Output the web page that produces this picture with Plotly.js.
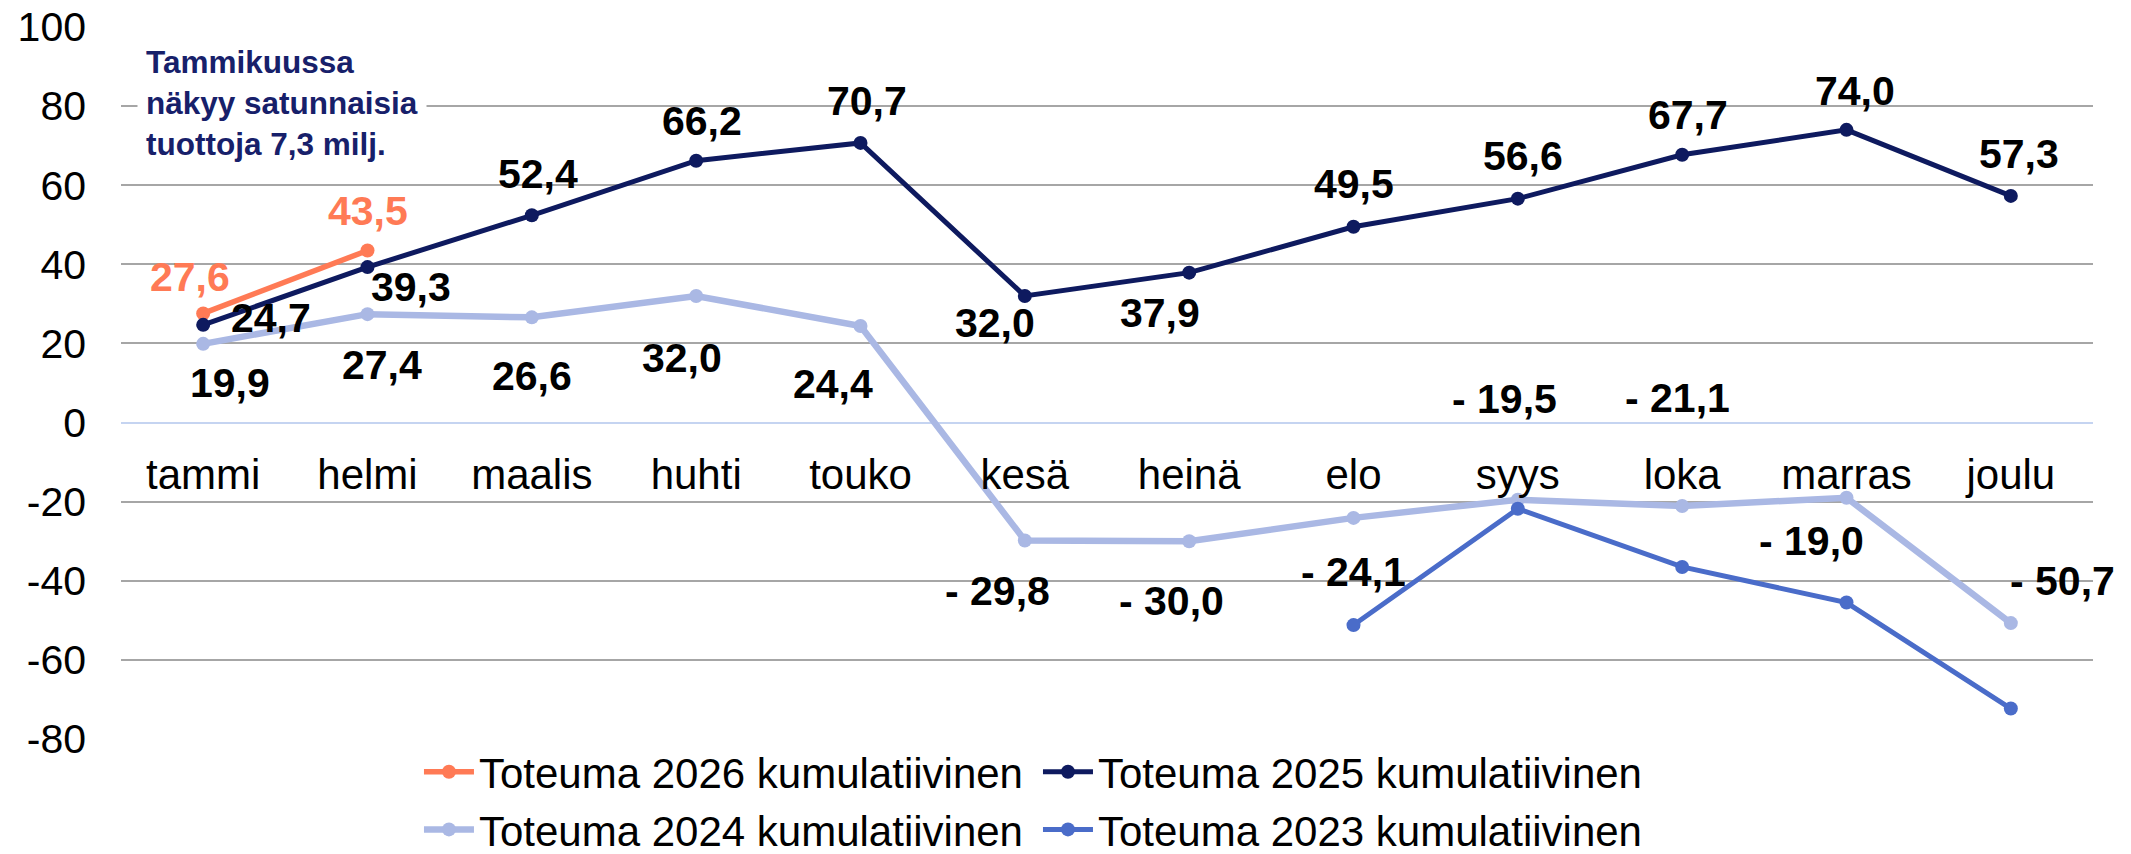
<!DOCTYPE html>
<html>
<head>
<meta charset="utf-8">
<script src="https://cdn.plot.ly/plotly-3.0.1.min.js"></script>
<style>html,body{margin:0;padding:0;background:#fff;}#chart{width:2131px;height:854px;}</style>
</head>
<body>
<div id="chart"></div>
<script>
// ---- data ----
const months = ['tammi','helmi','maalis','huhti','touko','kesä','heinä','elo','syys','loka','marras','joulu'];
const tot2026 = [27.6, 43.5, null, null, null, null, null, null, null, null, null, null];
const tot2025 = [24.7, 39.3, 52.4, 66.2, 70.7, 32.0, 37.9, 49.5, 56.6, 67.7, 74.0, 57.3];
const tot2024 = [19.9, 27.4, 26.6, 32.0, 24.4, -29.8, -30.0, -24.1, -19.5, -21.1, -19.0, -50.7];
const tot2023 = [null, null, null, null, null, null, null, -51.2, -21.8, -36.5, -45.5, -72.3];
const yTickVals = [-80, -60, -40, -20, 0, 20, 40, 60, 80, 100];
const yTickText = ['-80', '-60', '-40', '-20', '0', '20', '40', '60', '80', '100'];
const seriesNames = ['Toteuma 2026 kumulatiivinen','Toteuma 2025 kumulatiivinen','Toteuma 2024 kumulatiivinen','Toteuma 2023 kumulatiivinen'];
const noteText = 'Tammikuussa<br>näkyy satunnaisia<br>tuottoja 7,3 milj.';

// ---- styles ----
const FONT = 'Liberation Sans, Arial, sans-serif';
const colors = ['#FF7A55', '#0E1A5F', '#AAB8E4', '#4A6CC9'];
const widths = [5.5, 5, 6.5, 5];
const legendIds = ['legend', 'legend2', 'legend', 'legend2'];
// label offsets in screen px [dx, dy] (dy positive = down)
const off2026 = [[-13,-36],[0,-39]];
const off2025 = [[68,-7],[43,20],[6,-41],[6,-40],[6,-42],[-30,27],[-29,40],[0,-43],[5,-43],[6,-40],[8,-39],[8,-42]];
const off2024 = [[27,39],[14,51],[0,59],[-14,62],[-28,58],[-27,51],[-18,60],[0,54],[-13,-101],[-5,-108],[-35,43],[52,-42]];

function fmt(v){
  const s = Math.abs(v).toFixed(1).replace('.', ',');
  return v < 0 ? '- ' + s : s;
}

const allSeries = [tot2026, tot2025, tot2024, tot2023];
const traces = allSeries.map((ys, i) => ({
  type: 'scatter',
  mode: 'lines+markers',
  x: months,
  y: ys,
  name: seriesNames[i],
  legend: legendIds[i],
  legendgroup: 'g' + i,
  line: {color: colors[i], width: widths[i]},
  marker: {color: colors[i], size: 14},
  connectgaps: false,
  hoverinfo: 'skip'
}));

const annotations = [];
function addLabels(ys, offs, color){
  ys.forEach((v, i) => {
    if (v === null || !offs[i]) return;
    annotations.push({
      x: months[i], y: v, xref: 'x', yref: 'y',
      text: fmt(v), showarrow: false,
      xanchor: 'center', yanchor: 'middle',
      xshift: offs[i][0], yshift: -offs[i][1],
      font: {family: FONT, size: 41, color: color, weight: 'bold'}
    });
  });
}
addLabels(tot2026, off2026, colors[0]);
addLabels(tot2025, off2025, '#000000');
addLabels(tot2024, off2024, '#000000');

annotations.push({
  xref: 'paper', yref: 'paper', x: 0.008, y: 0.989,
  xanchor: 'left', yanchor: 'top', align: 'left',
  text: noteText, showarrow: false,
  bgcolor: '#ffffff', borderpad: 8,
  font: {family: FONT, size: 31.5, color: '#17206A', weight: 'bold'}
});

const legendStyle = {
  orientation: 'v', xanchor: 'left', xref: 'paper', yref: 'paper', y: 0.0014, yanchor: 'top',
  font: {family: FONT, size: 42, color: '#000'},
  itemwidth: 50, tracegroupgap: 10,
  bgcolor: 'rgba(0,0,0,0)', traceorder: 'normal'
};

const layout = {
  width: 2131, height: 854,
  margin: {l: 121, r: 38, t: 27, b: 115, autoexpand: false},
  paper_bgcolor: '#ffffff', plot_bgcolor: '#ffffff',
  showlegend: true,
  font: {family: FONT, size: 42, color: '#000000'},
  xaxis: {
    type: 'category', range: [-0.5, 11.5],
    anchor: 'free', position: 80/180, automargin: false,
    showgrid: false, showline: false, zeroline: false, ticks: '',
    tickfont: {family: FONT, size: 42, color: '#000'},
    ticklabelstandoff: 23, fixedrange: true
  },
  yaxis: {
    range: [-80, 100], tickmode: 'array', tickvals: yTickVals, ticktext: yTickText,
    automargin: false,
    showgrid: true, gridcolor: '#A6A6A6', gridwidth: 2,
    zeroline: true, zerolinecolor: '#C5D4F1', zerolinewidth: 2,
    showline: false, ticks: '',
    tickfont: {family: FONT, size: 41, color: '#000'},
    ticklabelstandoff: 34, fixedrange: true
  },
  legend: Object.assign({}, legendStyle, {x: 0.1511}),
  legend2: Object.assign({}, legendStyle, {x: 0.465}),
  annotations: annotations
};

Plotly.newPlot('chart', traces, layout, {staticPlot: true, displayModeBar: false});
</script>
</body>
</html>
